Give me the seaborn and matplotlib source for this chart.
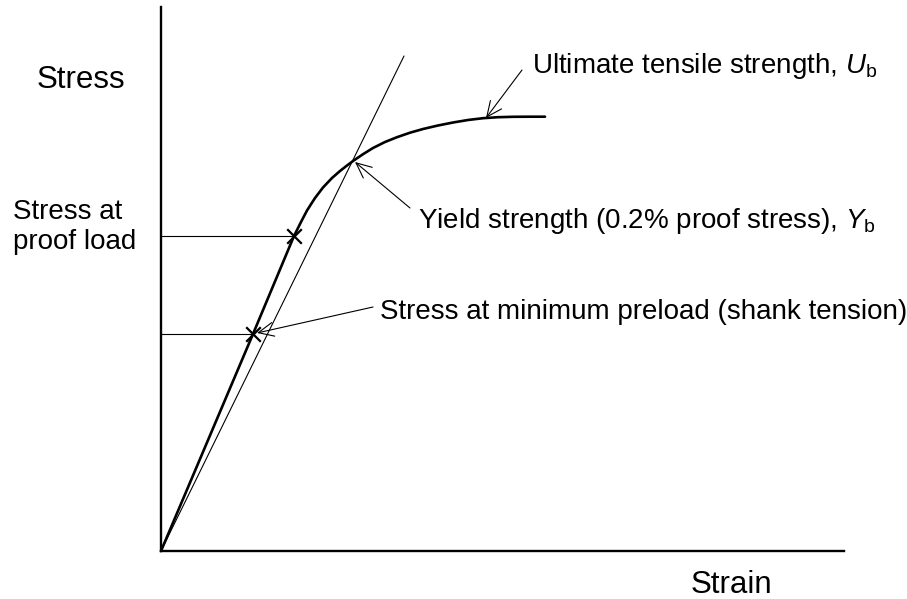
import numpy as np
import pandas as pd
import matplotlib
matplotlib.use('Agg')
import matplotlib.pyplot as plt
import seaborn as sns

# stress-strain curve (arbitrary units)
strain = [0, 92, 133, 140, 146, 154, 162, 171, 179, 186, 192, 202, 212, 224, 236, 249,
          262, 277, 292, 307, 322, 337, 352, 368, 384]
stress = [0, 217, 315, 329, 340.5, 353, 363.5, 373, 380, 385.5, 390, 396.8, 403, 409, 413.8, 418.3,
          422, 425.5, 428.5, 431, 432.8, 433.8, 434.2, 434.3, 434.3]

# thin elastic (0.2% offset) line
offset_strain = [0, 243]
offset_stress = [0, 495]

# marked points
preload_pt = (92, 217)
proof_pt = (133, 315)
yield_pt = (192, 390)
uts_pt = (324, 433)

sns.set_style('white')
plt.rcParams['font.family'] = ['Liberation Sans', 'DejaVu Sans']
plt.rcParams['text.color'] = 'black'
plt.rcParams['mathtext.fontset'] = 'custom'
plt.rcParams['mathtext.rm'] = 'Liberation Sans'
plt.rcParams['mathtext.it'] = 'Liberation Sans:italic'

fig = plt.figure(figsize=(9.07, 5.99), dpi=100)
ax = fig.add_axes([161 / 907, 48 / 599, 683 / 907, 544 / 599])

curve = pd.DataFrame({'strain': strain, 'stress': stress})
sns.lineplot(data=curve, x='strain', y='stress', sort=False, color='black',
             linewidth=1.9, ax=ax, clip_on=False)
sns.lineplot(x=offset_strain, y=offset_stress, sort=False, color='black',
             linewidth=0.8, ax=ax)

# horizontal guides to the marked stresses
for px, py in [preload_pt, proof_pt]:
    ax.plot([0, px], [py, py], color='black', linewidth=0.8, clip_on=False)

marks = pd.DataFrame({'x': [preload_pt[0], proof_pt[0]], 'y': [preload_pt[1], proof_pt[1]]})
sns.scatterplot(data=marks, x='x', y='y', marker='x', s=110, color='black',
                linewidth=1.6, ax=ax, zorder=5)

ax.set_xlim(0, 683)
ax.set_ylim(0, 544)
ax.set_xticks([])
ax.set_yticks([])
ax.set_xlabel('')
ax.set_ylabel('')
sns.despine(ax=ax)
for s in ['left', 'bottom']:
    ax.spines[s].set_linewidth(1.7)
    ax.spines[s].set_color('black')

fs = 20
arrow = dict(arrowstyle='->,head_length=0.55,head_width=0.25', color='black',
             lw=0.8, shrinkA=0, shrinkB=0, mutation_scale=20)

ax.annotate('', xy=(uts_pt[0] + 1, uts_pt[1]), xytext=(361, 481), arrowprops=arrow)
ax.text(371, 478, r'Ultimate tensile strength, $U_{\mathrm{b}}$', fontsize=fs,
        ha='left', va='baseline')

ax.annotate('', xy=(yield_pt[0] + 2, yield_pt[1] - 1), xytext=(249, 343), arrowprops=arrow)
ax.text(257, 323, r'Yield strength (0.2% proof stress), $Y_{\mathrm{b}}$', fontsize=fs,
        ha='left', va='baseline')

ax.annotate('', xy=(preload_pt[0] + 4, preload_pt[1] + 1), xytext=(212, 244), arrowprops=arrow)
ax.text(219, 232, 'Stress at minimum preload (shank tension)', fontsize=fs,
        ha='left', va='baseline')

fig.text(37 / 907, 1 - 80 / 599, 'Stress', fontsize=22.5, ha='left', va='center')
fig.text(13 / 907, 1 - 227 / 599, 'Stress at\nproof load', fontsize=fs, ha='left',
         va='center', linespacing=1.2)
fig.text(731 / 907, 1 - 585 / 599, 'Strain', fontsize=22.5, ha='center', va='center')

fig.savefig('out.png', dpi=100)
